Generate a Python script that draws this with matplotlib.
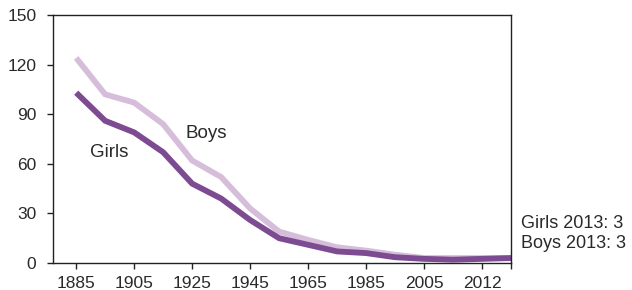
import matplotlib.pyplot as plt

plt.rcParams['font.family'] = ['Liberation Sans', 'DejaVu Sans']

years = ['1885', '1895', '1905', '1915', '1925', '1935', '1945', '1955',
         '1965', '1975', '1985', '1995', '2005', '2010', '2012', '2013']
boys = [124, 102, 97, 84, 62, 52, 33, 19, 14, 9.5, 7.5, 5, 3, 3, 3, 3]
girls = [103, 86, 79, 67, 48, 39, 26, 15, 11, 7, 6, 3.5, 2.5, 2, 2.5, 3]
tick_labels = ['1885', '1905', '1925', '1945', '1965', '1985', '2005', '2012']

boys_color = '#d6bedb'
girls_color = '#7d4b91'
text_color = '#2a2a2a'

fig = plt.figure(figsize=(6.32, 2.90), dpi=100)
ax = fig.add_axes([53 / 632, 27 / 290, 458 / 632, 248 / 290])

x = list(range(len(years)))
ax.plot(x, boys, color=boys_color, linewidth=4.2, solid_capstyle='butt', solid_joinstyle='miter')
ax.plot(x, girls, color=girls_color, linewidth=4.2, solid_capstyle='butt', solid_joinstyle='miter')

ax.set_xlim(-0.8, 15)
ax.set_ylim(0, 150)
ax.set_yticks([0, 30, 60, 90, 120, 150])
ax.set_xticks([years.index(t) for t in tick_labels])
ax.set_xticklabels(tick_labels)
ax.set_xticks([15], minor=True)

for s in ax.spines.values():
    s.set_color('#222222')
    s.set_linewidth(1)
ax.tick_params(axis='both', which='both', length=4, width=1, color='#222222',
               labelsize=12.5, labelcolor=text_color)
ax.tick_params(axis='y', pad=8)
ax.tick_params(axis='x', pad=5)

ax.text(3.76, 78.5, 'Boys', fontsize=13.5, color=text_color, va='center', ha='left')
ax.text(0.48, 67, 'Girls', fontsize=13.5, color=text_color, va='center', ha='left')
ax.text(15.34, 24, 'Girls 2013: 3', fontsize=13, color=text_color, va='center', ha='left',
        clip_on=False)
ax.text(15.34, 11.8, 'Boys 2013: 3', fontsize=13, color=text_color, va='center', ha='left',
        clip_on=False)

fig.savefig('out.png', dpi=100)
